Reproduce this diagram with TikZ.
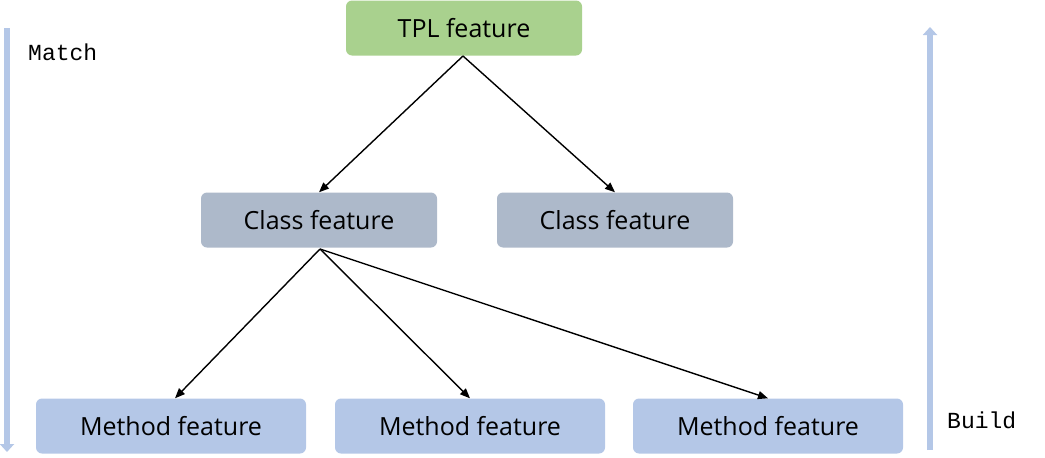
\documentclass[tikz,border=0pt]{standalone}
\usepackage{fontspec}
\setmainfont{Open Sans}
\newfontfamily\monof{Liberation Mono}
\usetikzlibrary{arrows.meta}
\definecolor{tplgreen}{HTML}{A9D18E}
\definecolor{classgray}{HTML}{ADB9CA}
\definecolor{methblue}{HTML}{B4C7E7}
\tikzset{
  box/.style={rounded corners=6pt, minimum height=55pt, inner sep=0pt, font=\fontsize{25}{30}\selectfont, text=black},
  tplbox/.style={box, fill=tplgreen, minimum width=236pt},
  classbox/.style={box, fill=classgray, minimum width=236pt},
  methbox/.style={box, fill=methblue, minimum width=270pt},
  edge/.style={-{Triangle[length=10pt,width=8pt]}, line width=1.4pt, black},
  sidearrow/.style={draw=methblue, line width=6pt, -{Triangle[length=8pt,width=14pt]}},
  sidelabel/.style={font=\monof\fontsize{23}{27}\selectfont, anchor=west, inner sep=0pt}
}
\begin{document}
\begin{tikzpicture}[x=1pt,y=-1pt]
\useasboundingbox (0,0) rectangle (1045,458);
\node[tplbox] (tpl) at (464,28) {TPL feature};
\node[classbox] (c1) at (319,220) {Class feature};
\node[classbox] (c2) at (615,220) {Class feature};
\node[methbox] (m1) at (171,426) {Method feature};
\node[methbox] (m2) at (470,426) {Method feature};
\node[methbox] (m3) at (768,426) {Method feature};
\coordinate (tplb) at (463,56);
\coordinate (c1b) at (320,249);
\draw[edge] (tplb) -- (c1.north);
\draw[edge] (tplb) -- (c2.north);
\draw[edge] (c1b) -- ([xshift=4pt]m1.north);
\draw[edge] (c1b) -- (m2.north);
\draw[edge] (c1b) -- (m3.north);
\coordinate (ls) at (7,28);
\coordinate (le) at (7,452);
\coordinate (rs) at (930,450);
\coordinate (re) at (930,27);
\draw[sidearrow] (ls) -- (le);
\draw[sidearrow] (rs) -- (re);
\node[sidelabel] (match) at (28,52) {Match};
\node[sidelabel] (build) at (947,420) {Build};
\end{tikzpicture}
\end{document}
